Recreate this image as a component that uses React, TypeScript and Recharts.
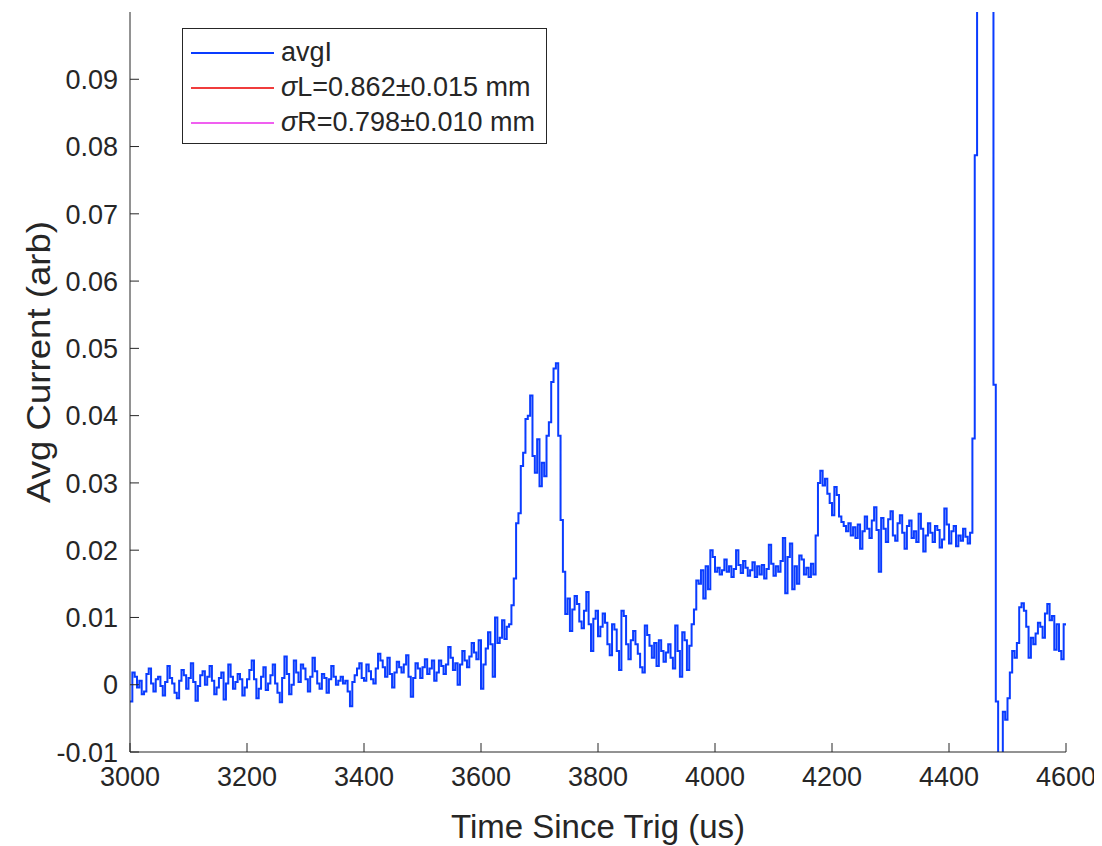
import { LineChart, Line, XAxis, YAxis } from 'recharts';

// scope samples, one every 4 us starting at 3000 us
const SAMPLE_START_US = 3000;
const SAMPLE_STEP_US = 4;

// 3000 - 3396 us: flat baseline
const baseline = [
  -0.0025, 0.0018, 0.0012, -0.0004, 0.0006, -0.0014, -0.001, 0.0016, 0.0024, 0.0002,
  -0.001, 0.0008, 0.0012, -0.0002, -0.0016, 0.0004, 0.0028, 0.001, 0.0002, -0.0012,
  -0.002, 0.0006, 0.0022, 0.0014, -0.0006, 0.001, 0.0032, 0.0004, -0.0024, -0.0002,
  0.0014, 0.002, 0.0, 0.0012, 0.0028, 0.0006, -0.0014, -0.0004, 0.001, 0.0018,
  -0.0022, 0.0002, 0.003, 0.0012, -0.0006, 0.0004, 0.0016, 0.0008, -0.0016, -0.0004,
  0.0008, 0.0022, 0.0036, 0.0008, -0.002, -0.0006, 0.0012, 0.0026, -0.0008, 0.0002,
  0.0014, 0.003, 0.0002, -0.0012, -0.0026, 0.001, 0.0042, 0.0016, -0.0014, 0.0,
  0.0036, 0.0018, 0.0004, 0.003, 0.0024, 0.0008, -0.001, 0.0012, 0.004, 0.002,
  0.0002, -0.0006, 0.0016, 0.001, -0.0012, 0.0008, 0.0028, 0.0012, 0.0, 0.0006,
  0.0012, 0.0002, 0.0006, -0.001, -0.0032, 0.0004, 0.0014, 0.0024, 0.0032, 0.001,
];

// 3400 - 3648 us: slow rise
const rise = [
  0.0006, 0.003, 0.002, 0.0008, 0.0002, 0.0024, 0.0046, 0.0036, 0.0026, 0.0012,
  0.004, 0.0016, -0.0004, 0.0018, 0.0034, 0.0026, 0.0018, 0.003, 0.0044, 0.0012,
  -0.0018, 0.001, 0.0032, 0.0024, 0.001, 0.0026, 0.0038, 0.0016, 0.0024, 0.0036,
  0.0006, 0.0018, 0.0036, 0.0028, 0.0016, 0.003, 0.0056, 0.004, 0.0022, 0.0032,
  0.0, 0.003, 0.005, 0.0036, 0.0026, 0.0042, 0.0062, 0.0048, 0.0038, 0.0066,
  -0.0006, 0.003, 0.0054, 0.0078, 0.006, 0.0012, 0.01, 0.0062, 0.007, 0.0096,
  0.0068, 0.0086, 0.009,
];

// 3652 - 3744 us: double peak
const peak = [
  0.0118, 0.0158, 0.024, 0.0255, 0.0325, 0.0345, 0.0395, 0.04, 0.043, 0.034,
  0.0315, 0.0365, 0.0295, 0.033, 0.031, 0.037, 0.039, 0.045, 0.047, 0.0478,
  0.037, 0.0245, 0.0168, 0.0105,
];

// 3748 - 3968 us: dip after the peak
const dip = [
  0.0128, 0.008, 0.0112, 0.0132, 0.012, 0.0094, 0.0084, 0.011, 0.0138, 0.009,
  0.005, 0.0098, 0.011, 0.0072, 0.0086, 0.0106, 0.0092, 0.006, 0.0044, 0.009,
  0.0082, 0.005, 0.0022, 0.011, 0.0102, 0.006, 0.0038, 0.0066, 0.008, 0.006,
  0.0046, 0.0026, 0.0018, 0.0088, 0.0074, 0.0058, 0.004, 0.0062, 0.0028, 0.0066,
  0.005, 0.0034, 0.0048, 0.006, 0.004, 0.0024, 0.0088, 0.005, 0.0012, 0.0078,
  0.0066, 0.0022, 0.0058, 0.009, 0.0112, 0.0155,
];

// 3972 - 4168 us: first plateau
const plateau1 = [
  0.015, 0.017, 0.0128, 0.0176, 0.0142, 0.02, 0.019, 0.0168, 0.0174, 0.0164,
  0.017, 0.0186, 0.0168, 0.0176, 0.016, 0.0172, 0.02, 0.0178, 0.0166, 0.0184,
  0.0174, 0.0162, 0.017, 0.0182, 0.016, 0.0176, 0.0164, 0.0178, 0.0158, 0.0172,
  0.0208, 0.018, 0.0162, 0.0176, 0.0168, 0.0184, 0.0218, 0.0136, 0.019, 0.021,
  0.0142, 0.0176, 0.015, 0.0192, 0.0186, 0.0164, 0.0174, 0.016, 0.018, 0.0164,
];

// 4172 - 4436 us: second plateau
const plateau2 = [
  0.0222, 0.03, 0.0318, 0.0296, 0.0306, 0.0284, 0.027, 0.0252, 0.0294, 0.0282,
  0.025, 0.0242, 0.0236, 0.0228, 0.024, 0.0222, 0.0234, 0.0218, 0.0238, 0.0202,
  0.0228, 0.025, 0.0232, 0.0218, 0.0244, 0.0264, 0.023, 0.0168, 0.0248, 0.0232,
  0.0212, 0.0246, 0.0258, 0.0222, 0.0214, 0.024, 0.0252, 0.0226, 0.0202, 0.0236,
  0.0244, 0.0218, 0.0228, 0.0212, 0.0254, 0.0232, 0.0198, 0.0222, 0.024, 0.0226,
  0.0212, 0.0236, 0.023, 0.0204, 0.0216, 0.0262, 0.0238, 0.021, 0.0228, 0.0236,
  0.0206, 0.0222, 0.0214, 0.0232, 0.022, 0.021, 0.0226,
];

// 4440 - 4600 us: off-scale spike and recovery
const spike = [
  0.0366, 0.0787, 0.16, 0.2, 0.2, 0.2, 0.2, 0.2, 0.16, 0.0446,
  -0.0025, -0.03, -0.03, -0.004, -0.0052, -0.002, 0.0018, 0.005, 0.004, 0.0062,
  0.0115, 0.0121, 0.011, 0.0086, 0.004, 0.007, 0.006, 0.0076, 0.0092, 0.0086,
  0.007, 0.0106, 0.012, 0.0096, 0.0102, 0.0052, 0.009, 0.005, 0.0038, 0.009,
  0.0088,
];

const avgI = [...baseline, ...rise, ...peak, ...dip, ...plateau1, ...plateau2, ...spike];

const xTicks = [3000, 3200, 3400, 3600, 3800, 4000, 4200, 4400, 4600];
const yTicks = [-0.01, 0, 0.01, 0.02, 0.03, 0.04, 0.05, 0.06, 0.07, 0.08, 0.09];

const legendNames = ['avgI', 'σL=0.862±0.015 mm', 'σR=0.798±0.010 mm'];
const legendColors = ['#0a3cff', '#f03c3c', '#f060f0'];

const rows = avgI.map((v, i) => ({ t: SAMPLE_START_US + i * SAMPLE_STEP_US, avgI: v }));

const FONT = '"Liberation Sans", Arial, Helvetica, sans-serif';
const INK = '#262626';
const GAP = 12;

function YTick({ x, y, payload }: any) {
  return (
    <g>
      <line x1={x + GAP} x2={x + GAP + 9} y1={y} y2={y} stroke={INK} strokeWidth={1} />
      <text x={x} y={y} dy="0.36em" textAnchor="end" fontSize={27} fontFamily={FONT} fill={INK}>
        {String(payload.value)}
      </text>
    </g>
  );
}

function XTick({ x, y, payload }: any) {
  return (
    <g>
      <line x1={x} x2={x} y1={y - GAP} y2={y - GAP - 9} stroke={INK} strokeWidth={1} />
      <text x={x} y={y + 22} textAnchor="middle" fontSize={27} fontFamily={FONT} fill={INK}>
        {String(payload.value)}
      </text>
    </g>
  );
}

export default function App() {
  return (
    <div style={{ position: 'relative', width: 1094, height: 838, background: '#fff' }}>
      <LineChart width={1094} height={838} data={rows} margin={{ top: 4, right: 36, left: 0, bottom: 0 }}>
        <XAxis
          dataKey="t"
          type="number"
          domain={[3000, 4600]}
          allowDataOverflow
          ticks={xTicks}
          height={94}
          tickSize={0}
          tickMargin={GAP}
          tickLine={false}
          axisLine={{ stroke: INK, strokeWidth: 1 }}
          tick={<XTick />}
          label={({ viewBox }: any) => (
            <text
              x={viewBox.x + viewBox.width / 2}
              y={viewBox.y + 86}
              textAnchor="middle"
              fontSize={33}
              fontFamily={FONT}
              fill={INK}
            >
              Time Since Trig (us)
            </text>
          )}
        />
        <YAxis
          type="number"
          domain={[-0.01, 0.1]}
          allowDataOverflow
          ticks={yTicks}
          width={122}
          tickSize={0}
          tickMargin={GAP}
          tickLine={false}
          axisLine={{ stroke: INK, strokeWidth: 1 }}
          tick={<YTick />}
          label={({ viewBox }: any) => {
            const cx = 42;
            const cy = viewBox.y + viewBox.height / 2 - 20;
            return (
              <text
                x={cx}
                y={cy}
                transform={`rotate(-90 ${cx} ${cy})`}
                textAnchor="middle"
                fontSize={33}
                textLength={282}
                lengthAdjust="spacingAndGlyphs"
                fontFamily={FONT}
                fill={INK}
              >
                Avg Current (arb)
              </text>
            );
          }}
        />
        <Line
          type="stepAfter"
          dataKey="avgI"
          stroke={legendColors[0]}
          strokeWidth={2}
          dot={false}
          activeDot={false}
          isAnimationActive={false}
        />
      </LineChart>

      <div
        style={{
          position: 'absolute',
          left: 174,
          top: 20,
          width: 363,
          height: 114,
          border: `1px solid ${INK}`,
          background: '#fff',
          fontFamily: FONT,
          fontSize: 27,
          color: INK,
        }}
      >
        {legendNames.map((name, i) => (
          <div
            key={name}
            style={{ position: 'absolute', left: 0, top: 6 + i * 35, height: 35, display: 'flex', alignItems: 'center' }}
          >
            <span style={{ display: 'inline-block', marginLeft: 8, width: 83, height: 2, background: legendColors[i] }} />
            <span style={{ marginLeft: 7, whiteSpace: 'nowrap' }}>
              {name.startsWith('σ') ? (
                <>
                  <i>σ</i>
                  {name.slice(1)}
                </>
              ) : (
                name
              )}
            </span>
          </div>
        ))}
      </div>
    </div>
  );
}
